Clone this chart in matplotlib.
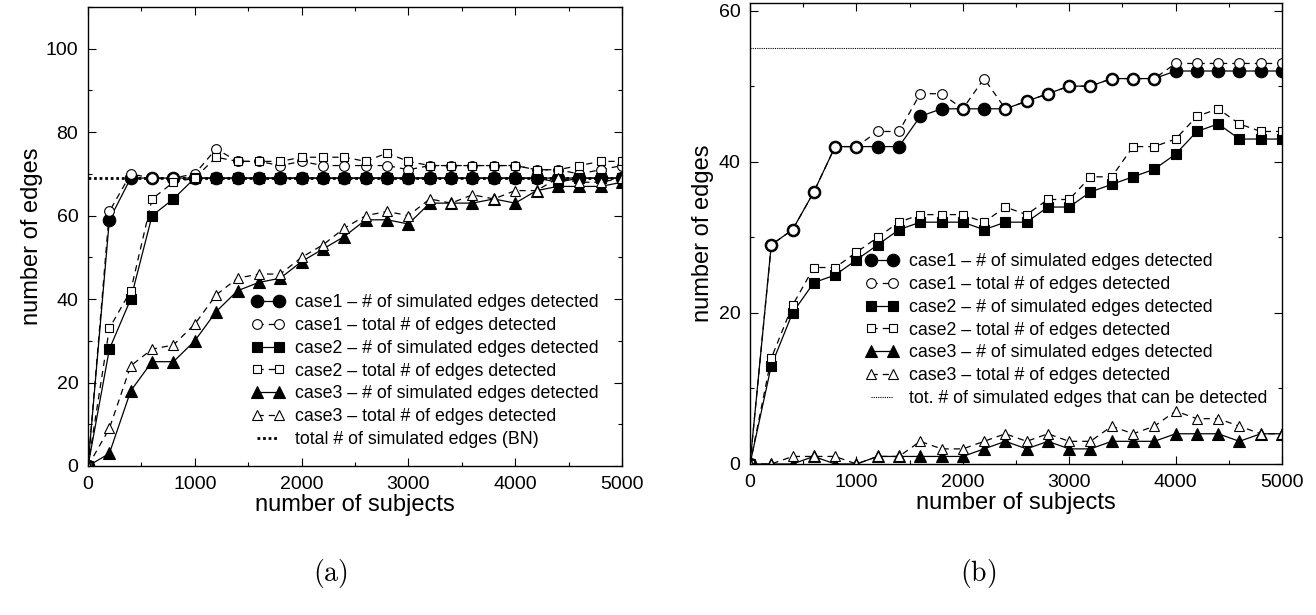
import numpy as np
import matplotlib
matplotlib.use("Agg")
import matplotlib.pyplot as plt
from matplotlib.ticker import MultipleLocator

plt.rcParams['font.family'] = ['Liberation Sans', 'DejaVu Sans']
plt.rcParams['mathtext.fontset'] = 'cm'

# number of subjects (sampled every 200)
subjects = list(range(0, 5001, 200))

# panel (a)
a_case1_det = [0, 59, 69, 69, 69, 69, 69, 69, 69, 69, 69, 69, 69, 69, 69, 69, 69, 69, 69, 69, 69, 69, 69, 69, 69, 69]
a_case1_tot = [0, 61, 70, 69, 69, 70, 76, 73, 73, 72, 73, 72, 72, 72, 72, 71, 72, 72, 72, 72, 72, 71, 71, 70, 71, 72]
a_case2_det = [0, 28, 40, 60, 64, 69, 69, 69, 69, 69, 69, 69, 69, 69, 69, 69, 69, 69, 69, 69, 69, 69, 68, 69, 69, 69]
a_case2_tot = [0, 33, 42, 64, 68, 69, 74, 73, 73, 73, 74, 74, 74, 73, 75, 73, 72, 72, 72, 72, 72, 71, 71, 72, 73, 73]
a_case3_det = [0, 3, 18, 25, 25, 30, 37, 42, 44, 45, 49, 52, 55, 59, 59, 58, 63, 63, 63, 64, 63, 66, 67, 67, 67, 68]
a_case3_tot = [0, 9, 24, 28, 29, 34, 41, 45, 46, 46, 50, 53, 57, 60, 61, 60, 64, 63, 65, 64, 66, 66, 69, 68, 68, 69]
a_total_bn = 69

# panel (b)
b_case1_det = [0, 29, 31, 36, 42, 42, 42, 42, 46, 47, 47, 47, 47, 48, 49, 50, 50, 51, 51, 51, 52, 52, 52, 52, 52, 52]
b_case1_tot = [0, 29, 31, 36, 42, 42, 44, 44, 49, 49, 47, 51, 47, 48, 49, 50, 50, 51, 51, 51, 53, 53, 53, 53, 53, 53]
b_case2_det = [0, 13, 20, 24, 25, 27, 29, 31, 32, 32, 32, 31, 32, 32, 34, 34, 36, 37, 38, 39, 41, 44, 45, 43, 43, 43]
b_case2_tot = [0, 14, 21, 26, 26, 28, 30, 32, 33, 33, 33, 32, 34, 33, 35, 35, 38, 38, 42, 42, 43, 46, 47, 45, 44, 44]
b_case3_det = [0, 0, 0, 1, 0, 0, 1, 1, 1, 1, 1, 2, 3, 2, 3, 2, 2, 3, 3, 3, 4, 4, 4, 3, 4, 4]
b_case3_tot = [0, 0, 1, 1, 1, 0, 1, 1, 3, 2, 2, 3, 4, 3, 4, 3, 3, 5, 4, 5, 7, 6, 6, 5, 4, 4]
b_total_possible = 55

labels_det = ['case1 \u2013 # of simulated edges detected',
              'case1 \u2013 total # of edges detected',
              'case2 \u2013 # of simulated edges detected',
              'case2 \u2013 total # of edges detected',
              'case3 \u2013 # of simulated edges detected',
              'case3 \u2013 total # of edges detected']

FS = 14
LEG_FS = 12.8


def draw_panel(ax, series, hline, hline_label, hline_lw, ylim, yminor, ylabelpad):
    styles = [('o', '-', 'black', 9),
              ('o', '--', 'white', 7),
              ('s', '-', 'black', 7),
              ('s', '--', 'white', 6),
              ('^', '-', 'black', 8.5),
              ('^', '--', 'white', 7)]
    ax.axhline(hline, color='black', linestyle=(0, (1, 1)), linewidth=hline_lw,
               label=hline_label, zorder=1)
    for (mk, ls, fc, ms), ys, lab in zip(styles, series, labels_det):
        ax.plot(subjects, ys, marker=mk, linestyle=ls, color='black', mfc=fc,
                mec='black', ms=ms, lw=0.9, mew=0.8, dashes=(5, 4) if ls == '--' else (None, None),
                label=lab, zorder=2)
    ax.set_xlim(0, 5000)
    ax.set_ylim(*ylim)
    ax.xaxis.set_major_locator(MultipleLocator(1000))
    ax.xaxis.set_minor_locator(MultipleLocator(500))
    ax.yaxis.set_major_locator(MultipleLocator(20))
    ax.yaxis.set_minor_locator(MultipleLocator(yminor))
    ax.tick_params(which='both', direction='in', top=True, right=True, labelsize=FS)
    ax.tick_params(which='major', length=6, width=0.8, pad=7)
    ax.tick_params(which='minor', length=3, width=0.8)
    for sp in ax.spines.values():
        sp.set_linewidth(1.0)
    ax.set_xlabel('number of subjects', fontsize=17, labelpad=1)
    ax.set_ylabel('number of edges', fontsize=17, labelpad=ylabelpad)


fig = plt.figure(figsize=(13.16, 6.15), dpi=100)
ax1 = fig.add_axes([88 / 1316, 1 - 466 / 615, 534 / 1316, 459 / 615])
ax2 = fig.add_axes([750 / 1316, 1 - 464 / 615, 532 / 1316, 461 / 615])

draw_panel(ax1, [a_case1_det, a_case1_tot, a_case2_det, a_case2_tot, a_case3_det, a_case3_tot],
           a_total_bn, 'total # of simulated edges (BN)', 2.0, (0, 110), 10, 2)
draw_panel(ax2, [b_case1_det, b_case1_tot, b_case2_det, b_case2_tot, b_case3_det, b_case3_tot],
           b_total_possible, 'tot. # of simulated edges that can be detected', 0.8, (0, 61), 10, 3)


def add_legend(ax, x0, y0):
    h, l = ax.get_legend_handles_labels()
    h = h[1:] + h[:1]
    l = l[1:] + l[:1]
    ax.legend(h, l, loc='upper left', bbox_to_anchor=(x0 / 1316, 1 - y0 / 615),
              bbox_transform=fig.transFigure, frameon=False, fontsize=LEG_FS,
              numpoints=2, handlelength=1.8, handletextpad=0.6,
              labelspacing=0.33, borderpad=0, borderaxespad=0)


add_legend(ax1, 252, 294)
add_legend(ax2, 866, 253)

fig.text(330 / 1316, 1 - 573 / 615, r'$(\mathrm{a})$', fontsize=20, ha='center', va='center')
fig.text(978 / 1316, 1 - 573 / 615, r'$(\mathrm{b})$', fontsize=20, ha='center', va='center')

fig.savefig('out.png', dpi=100)
